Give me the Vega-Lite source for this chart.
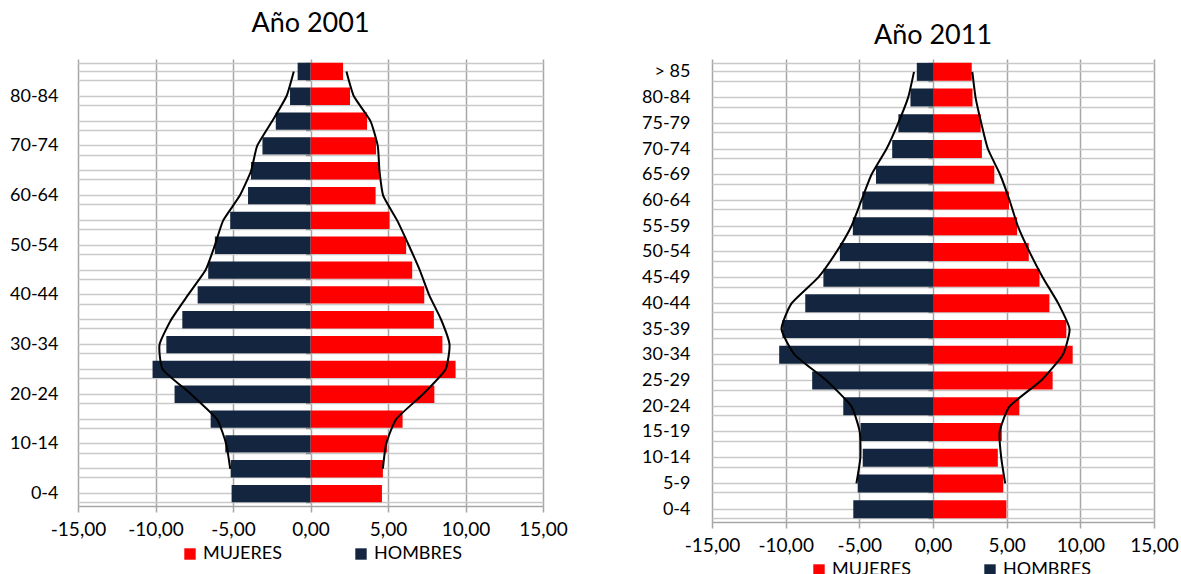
{
  "$schema": "https://vega.github.io/schema/vega-lite/v6.json",
  "padding": {"left": 9, "top": 10, "right": 0, "bottom": 0},
  "spacing": 169,
  "bounds": "flush",
  "datasets": {
    "b2001": [
      {"age": "> 85", "sex": "MUJERES", "v": 2.1}, {"age": "80-84", "sex": "MUJERES", "v": 2.55}, {"age": "75-79", "sex": "MUJERES", "v": 3.65}, {"age": "70-74", "sex": "MUJERES", "v": 4.23}, {"age": "65-69", "sex": "MUJERES", "v": 4.43}, {"age": "60-64", "sex": "MUJERES", "v": 4.2}, {"age": "55-59", "sex": "MUJERES", "v": 5.1}, {"age": "50-54", "sex": "MUJERES", "v": 6.17}, {"age": "45-49", "sex": "MUJERES", "v": 6.56}, {"age": "40-44", "sex": "MUJERES", "v": 7.34}, {"age": "35-39", "sex": "MUJERES", "v": 7.96}, {"age": "30-34", "sex": "MUJERES", "v": 8.51}, {"age": "25-29", "sex": "MUJERES", "v": 9.36}, {"age": "20-24", "sex": "MUJERES", "v": 7.99}, {"age": "15-19", "sex": "MUJERES", "v": 5.94}, {"age": "10-14", "sex": "MUJERES", "v": 4.95}, {"age": "5-9", "sex": "MUJERES", "v": 4.67}, {"age": "0-4", "sex": "MUJERES", "v": 4.61},
      {"age": "> 85", "sex": "HOMBRES", "v": -0.83}, {"age": "80-84", "sex": "HOMBRES", "v": -1.32}, {"age": "75-79", "sex": "HOMBRES", "v": -2.24}, {"age": "70-74", "sex": "HOMBRES", "v": -3.1}, {"age": "65-69", "sex": "HOMBRES", "v": -3.84}, {"age": "60-64", "sex": "HOMBRES", "v": -4.03}, {"age": "55-59", "sex": "HOMBRES", "v": -5.18}, {"age": "50-54", "sex": "HOMBRES", "v": -6.17}, {"age": "45-49", "sex": "HOMBRES", "v": -6.6}, {"age": "40-44", "sex": "HOMBRES", "v": -7.28}, {"age": "35-39", "sex": "HOMBRES", "v": -8.27}, {"age": "30-34", "sex": "HOMBRES", "v": -9.3}, {"age": "25-29", "sex": "HOMBRES", "v": -10.19}, {"age": "20-24", "sex": "HOMBRES", "v": -8.77}, {"age": "15-19", "sex": "HOMBRES", "v": -6.44}, {"age": "10-14", "sex": "HOMBRES", "v": -5.5}, {"age": "5-9", "sex": "HOMBRES", "v": -5.15}, {"age": "0-4", "sex": "HOMBRES", "v": -5.09}
    ],
    "l2001": [
      {"age": "> 85", "side": "R", "ord": 17, "v": 2.32}, {"age": "80-84", "side": "R", "ord": 16, "v": 2.8}, {"age": "75-79", "side": "R", "ord": 15, "v": 3.87}, {"age": "70-74", "side": "R", "ord": 14, "v": 4.34}, {"age": "65-69", "side": "R", "ord": 13, "v": 4.45}, {"age": "60-64", "side": "R", "ord": 12, "v": 4.69}, {"age": "55-59", "side": "R", "ord": 11, "v": 5.59}, {"age": "50-54", "side": "R", "ord": 10, "v": 6.34}, {"age": "45-49", "side": "R", "ord": 9, "v": 7.05}, {"age": "40-44", "side": "R", "ord": 8, "v": 7.65}, {"age": "35-39", "side": "R", "ord": 7, "v": 8.43}, {"age": "30-34", "side": "R", "ord": 6, "v": 8.97}, {"age": "25-29", "side": "R", "ord": 5, "v": 8.71}, {"age": "20-24", "side": "R", "ord": 4, "v": 7.25}, {"age": "15-19", "side": "R", "ord": 3, "v": 5.53}, {"age": "10-14", "side": "R", "ord": 2, "v": 4.88}, {"age": "5-9", "side": "R", "ord": 1, "v": 4.67},
      {"age": "> 85", "side": "L", "ord": 17, "v": -1.08}, {"age": "80-84", "side": "L", "ord": 16, "v": -1.55}, {"age": "75-79", "side": "L", "ord": 15, "v": -2.47}, {"age": "70-74", "side": "L", "ord": 14, "v": -3.44}, {"age": "65-69", "side": "L", "ord": 13, "v": -3.83}, {"age": "60-64", "side": "L", "ord": 12, "v": -4.56}, {"age": "55-59", "side": "L", "ord": 11, "v": -5.63}, {"age": "50-54", "side": "L", "ord": 10, "v": -6.17}, {"age": "45-49", "side": "L", "ord": 9, "v": -6.77}, {"age": "40-44", "side": "L", "ord": 8, "v": -7.9}, {"age": "35-39", "side": "L", "ord": 7, "v": -8.99}, {"age": "30-34", "side": "L", "ord": 6, "v": -9.74}, {"age": "25-29", "side": "L", "ord": 5, "v": -9.53}, {"age": "20-24", "side": "L", "ord": 4, "v": -7.7}, {"age": "15-19", "side": "L", "ord": 3, "v": -6.04}, {"age": "10-14", "side": "L", "ord": 2, "v": -5.44}, {"age": "5-9", "side": "L", "ord": 1, "v": -5.18}
    ],
    "b2011": [
      {"age": "> 85", "sex": "MUJERES", "v": 2.63}, {"age": "80-84", "sex": "MUJERES", "v": 2.68}, {"age": "75-79", "sex": "MUJERES", "v": 3.24}, {"age": "70-74", "sex": "MUJERES", "v": 3.32}, {"age": "65-69", "sex": "MUJERES", "v": 4.16}, {"age": "60-64", "sex": "MUJERES", "v": 5.16}, {"age": "55-59", "sex": "MUJERES", "v": 5.71}, {"age": "50-54", "sex": "MUJERES", "v": 6.5}, {"age": "45-49", "sex": "MUJERES", "v": 7.23}, {"age": "40-44", "sex": "MUJERES", "v": 7.9}, {"age": "35-39", "sex": "MUJERES", "v": 9.05}, {"age": "30-34", "sex": "MUJERES", "v": 9.48}, {"age": "25-29", "sex": "MUJERES", "v": 8.12}, {"age": "20-24", "sex": "MUJERES", "v": 5.86}, {"age": "15-19", "sex": "MUJERES", "v": 4.67}, {"age": "10-14", "sex": "MUJERES", "v": 4.4}, {"age": "5-9", "sex": "MUJERES", "v": 4.77}, {"age": "0-4", "sex": "MUJERES", "v": 4.98},
      {"age": "> 85", "sex": "HOMBRES", "v": -1.1}, {"age": "80-84", "sex": "HOMBRES", "v": -1.53}, {"age": "75-79", "sex": "HOMBRES", "v": -2.35}, {"age": "70-74", "sex": "HOMBRES", "v": -2.77}, {"age": "65-69", "sex": "HOMBRES", "v": -3.87}, {"age": "60-64", "sex": "HOMBRES", "v": -4.8}, {"age": "55-59", "sex": "HOMBRES", "v": -5.44}, {"age": "50-54", "sex": "HOMBRES", "v": -6.32}, {"age": "45-49", "sex": "HOMBRES", "v": -7.44}, {"age": "40-44", "sex": "HOMBRES", "v": -8.67}, {"age": "35-39", "sex": "HOMBRES", "v": -10.22}, {"age": "30-34", "sex": "HOMBRES", "v": -10.44}, {"age": "25-29", "sex": "HOMBRES", "v": -8.2}, {"age": "20-24", "sex": "HOMBRES", "v": -6.09}, {"age": "15-19", "sex": "HOMBRES", "v": -4.92}, {"age": "10-14", "sex": "HOMBRES", "v": -4.77}, {"age": "5-9", "sex": "HOMBRES", "v": -5.11}, {"age": "0-4", "sex": "HOMBRES", "v": -5.41}
    ],
    "l2011": [
      {"age": "> 85", "side": "R", "ord": 17, "v": 2.67}, {"age": "80-84", "side": "R", "ord": 16, "v": 2.89}, {"age": "75-79", "side": "R", "ord": 15, "v": 3.28}, {"age": "70-74", "side": "R", "ord": 14, "v": 3.73}, {"age": "65-69", "side": "R", "ord": 13, "v": 4.56}, {"age": "60-64", "side": "R", "ord": 12, "v": 5.2}, {"age": "55-59", "side": "R", "ord": 11, "v": 5.76}, {"age": "50-54", "side": "R", "ord": 10, "v": 6.55}, {"age": "45-49", "side": "R", "ord": 9, "v": 7.46}, {"age": "40-44", "side": "R", "ord": 8, "v": 8.5}, {"age": "35-39", "side": "R", "ord": 7, "v": 9.27}, {"age": "30-34", "side": "R", "ord": 6, "v": 8.81}, {"age": "25-29", "side": "R", "ord": 5, "v": 7.34}, {"age": "20-24", "side": "R", "ord": 4, "v": 5.2}, {"age": "15-19", "side": "R", "ord": 3, "v": 4.52}, {"age": "10-14", "side": "R", "ord": 2, "v": 4.63}, {"age": "5-9", "side": "R", "ord": 1, "v": 4.9},
      {"age": "> 85", "side": "L", "ord": 17, "v": -1.29}, {"age": "80-84", "side": "L", "ord": 16, "v": -1.69}, {"age": "75-79", "side": "L", "ord": 15, "v": -2.37}, {"age": "70-74", "side": "L", "ord": 14, "v": -3.16}, {"age": "65-69", "side": "L", "ord": 13, "v": -4.18}, {"age": "60-64", "side": "L", "ord": 12, "v": -4.86}, {"age": "55-59", "side": "L", "ord": 11, "v": -5.54}, {"age": "50-54", "side": "L", "ord": 10, "v": -6.55}, {"age": "45-49", "side": "L", "ord": 9, "v": -7.8}, {"age": "40-44", "side": "L", "ord": 8, "v": -9.6}, {"age": "35-39", "side": "L", "ord": 7, "v": -10.28}, {"age": "30-34", "side": "L", "ord": 6, "v": -9.38}, {"age": "25-29", "side": "L", "ord": 5, "v": -7.23}, {"age": "20-24", "side": "L", "ord": 4, "v": -5.54}, {"age": "15-19", "side": "L", "ord": 3, "v": -4.97}, {"age": "10-14", "side": "L", "ord": 2, "v": -4.93}, {"age": "5-9", "side": "L", "ord": 1, "v": -5.2}
    ]
  },
  "hconcat": [
    {
      "width": 465,
      "height": 447,
      "title": {"text": "Año 2001", "font": "Lato", "fontSize": 27, "fontWeight": "normal", "color": "#000000", "offset": 12},
      "layer": [
        {
          "data": {"name": "b2001"},
          "mark": {"type": "bar"},
          "encoding": {
            "y": {"field": "age", "type": "nominal", "sort": null,
              "scale": {"domain": ["> 85","80-84","75-79","70-74","65-69","60-64","55-59","50-54","45-49","40-44","35-39","30-34","25-29","20-24","15-19","10-14","5-9","0-4"], "paddingInner": 0.3, "paddingOuter": 0.15},
              "axis": {"orient": "left", "title": null, "domain": false, "ticks": false, "tickSize": 0, "labelPadding": 20, "labelFont": "Lato", "labelFontSize": 18, "labelColor": "#000000", "grid": true, "gridColor": "#c9c9c9", "gridWidth": 1.5, "tickBand": "extent",
                "labelExpr": "indexof(['0-4','10-14','20-24','30-34','40-44','50-54','60-64','70-74','80-84'], datum.value) >= 0 ? datum.value : ''"}},
            "x": {"field": "v", "type": "quantitative", "scale": {"domain": [-15, 15], "nice": false},
              "axis": {"title": null, "values": [-15, -10, -5, 0, 5, 10, 15], "labelOverlap": false, "labelFlush": false, "grid": true, "gridColor": "#a6a6a6", "gridWidth": 1.5, "domainColor": "#a6a6a6", "domainWidth": 1.5, "tickColor": "#a6a6a6", "tickWidth": 1.5, "tickSize": 6, "labelFont": "Lato", "labelFontSize": 19, "labelColor": "#000000", "labelPadding": 8,
                "labelExpr": "replace(replace(format(datum.value, '.2f'), '.', ','), '\u2212', '-')"}},
            "color": {"field": "sex", "type": "nominal", "scale": {"domain": ["MUJERES", "HOMBRES"], "range": ["#ff0000", "#13253f"]},
              "legend": {"orient": "bottom", "direction": "horizontal", "title": " ", "titleOrient": "left", "titlePadding": 22, "symbolType": "square", "symbolSize": 130, "symbolStrokeWidth": 0, "labelFont": "Lato", "labelFontSize": 18, "labelColor": "#000000", "columnPadding": 70, "offset": 6}}
          }
        },
        {
          "data": {"name": "l2001"},
          "mark": {"type": "line", "interpolate": "cardinal", "tension": 0.5, "color": "#000000", "strokeWidth": 2},
          "encoding": {
            "y": {"field": "age", "type": "nominal", "sort": null,
              "axis": {"orient": "right", "title": null, "labels": false, "ticks": false, "domain": false, "grid": true, "gridColor": "#c9c9c9", "gridWidth": 1.5}},
            "x": {"field": "v", "type": "quantitative"},
            "detail": {"field": "side", "type": "nominal"},
            "order": {"field": "ord", "type": "quantitative"}
          }
        },
        {
          "data": {"name": "b2001"},
          "mark": {"type": "point", "opacity": 0},
          "encoding": {
            "y": {"field": "age", "type": "nominal", "sort": null,
              "axis": {"orient": "left", "offset": -232.5, "title": null, "labels": false, "domain": false, "grid": false, "ticks": true, "tickBand": "extent", "tickSize": 5, "tickColor": "#8c8c8c", "tickWidth": 1.5}},
            "x": {"field": "v", "type": "quantitative"}
          }
        },
        {
          "data": {"name": "b2001"},
          "mark": {"type": "point", "opacity": 0},
          "encoding": {
            "y": {"field": "age", "type": "nominal", "sort": null,
              "axis": {"orient": "right", "offset": -232.5, "title": null, "labels": false, "domain": false, "grid": false, "ticks": true, "tickSize": 4, "tickColor": "#8c8c8c", "tickWidth": 1.5}},
            "x": {"field": "v", "type": "quantitative"}
          }
        }
      ],
      "resolve": {"axis": {"y": "independent"}}
    },
    {
      "width": 442,
      "height": 463,
      "title": {"text": "Año 2011", "font": "Lato", "fontSize": 27, "fontWeight": "normal", "color": "#000000", "offset": 0},
      "layer": [
        {
          "data": {"name": "b2011"},
          "mark": {"type": "bar"},
          "encoding": {
            "y": {"field": "age", "type": "nominal", "sort": null,
              "scale": {"domain": ["> 85","80-84","75-79","70-74","65-69","60-64","55-59","50-54","45-49","40-44","35-39","30-34","25-29","20-24","15-19","10-14","5-9","0-4"], "paddingInner": 0.3, "paddingOuter": 0.15},
              "axis": {"orient": "left", "title": null, "domain": false, "ticks": false, "tickSize": 0, "labelPadding": 22, "labelFont": "Lato", "labelFontSize": 18, "labelColor": "#000000", "grid": true, "gridColor": "#c9c9c9", "gridWidth": 1.5, "tickBand": "extent"}},
            "x": {"field": "v", "type": "quantitative", "scale": {"domain": [-15, 15], "nice": false},
              "axis": {"title": null, "values": [-15, -10, -5, 0, 5, 10, 15], "labelOverlap": false, "labelFlush": false, "grid": true, "gridColor": "#a6a6a6", "gridWidth": 1.5, "domainColor": "#a6a6a6", "domainWidth": 1.5, "tickColor": "#a6a6a6", "tickWidth": 1.5, "tickSize": 6, "labelFont": "Lato", "labelFontSize": 19, "labelColor": "#000000", "labelPadding": 8,
                "labelExpr": "replace(replace(format(datum.value, '.2f'), '.', ','), '\u2212', '-')"}},
            "color": {"field": "sex", "type": "nominal", "scale": {"domain": ["MUJERES", "HOMBRES"], "range": ["#ff0000", "#13253f"]},
              "legend": {"orient": "bottom", "direction": "horizontal", "title": " ", "titleOrient": "left", "titlePadding": 34, "symbolType": "square", "symbolSize": 130, "symbolStrokeWidth": 0, "labelFont": "Lato", "labelFontSize": 18, "labelColor": "#000000", "columnPadding": 70, "offset": 6}}
          }
        },
        {
          "data": {"name": "l2011"},
          "mark": {"type": "line", "interpolate": "cardinal", "tension": 0.5, "color": "#000000", "strokeWidth": 2},
          "encoding": {
            "y": {"field": "age", "type": "nominal", "sort": null,
              "axis": {"orient": "right", "title": null, "labels": false, "ticks": false, "domain": false, "grid": true, "gridColor": "#c9c9c9", "gridWidth": 1.5}},
            "x": {"field": "v", "type": "quantitative"},
            "detail": {"field": "side", "type": "nominal"},
            "order": {"field": "ord", "type": "quantitative"}
          }
        },
        {
          "data": {"name": "b2011"},
          "mark": {"type": "point", "opacity": 0},
          "encoding": {
            "y": {"field": "age", "type": "nominal", "sort": null,
              "axis": {"orient": "left", "offset": -221, "title": null, "labels": false, "domain": false, "grid": false, "ticks": true, "tickBand": "extent", "tickSize": 5, "tickColor": "#8c8c8c", "tickWidth": 1.5}},
            "x": {"field": "v", "type": "quantitative"}
          }
        },
        {
          "data": {"name": "b2011"},
          "mark": {"type": "point", "opacity": 0},
          "encoding": {
            "y": {"field": "age", "type": "nominal", "sort": null,
              "axis": {"orient": "right", "offset": -221, "title": null, "labels": false, "domain": false, "grid": false, "ticks": true, "tickSize": 4, "tickColor": "#8c8c8c", "tickWidth": 1.5}},
            "x": {"field": "v", "type": "quantitative"}
          }
        }
      ],
      "resolve": {"axis": {"y": "independent"}}
    }
  ],
  "resolve": {"legend": {"color": "independent"}, "scale": {"color": "independent"}},
  "config": {"font": "Lato", "view": {"stroke": null}, "legend": {"layout": {"bottom": {"anchor": "middle"}}}}
}
